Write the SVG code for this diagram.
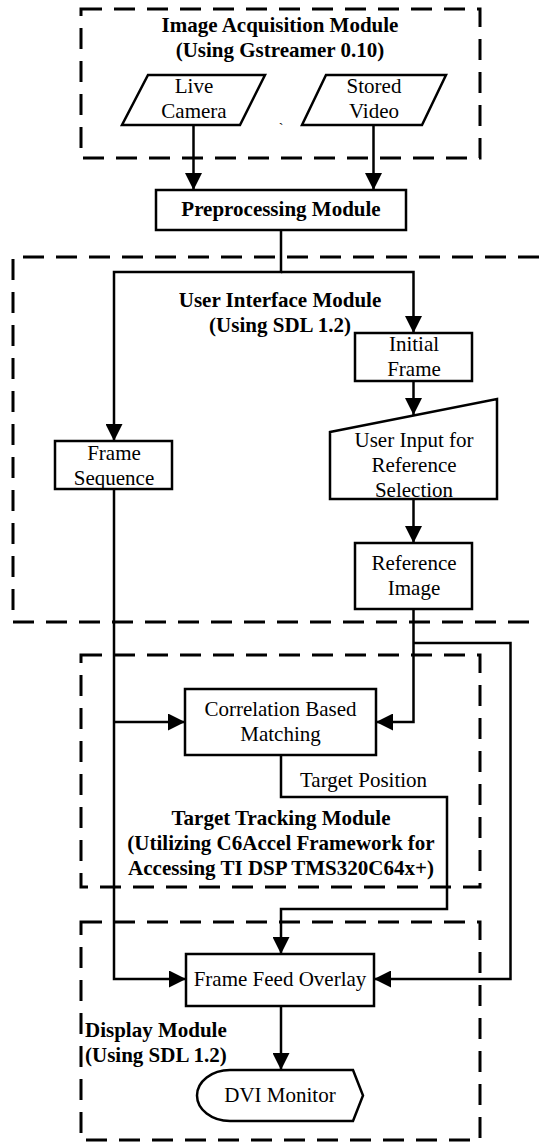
<svg xmlns="http://www.w3.org/2000/svg" width="539" height="1142" viewBox="0 0 539 1142">
<style>
text{font-family:"Liberation Serif","Times New Roman",serif;font-size:21px;fill:#000;text-anchor:middle}
.b{font-weight:bold}
.l{text-anchor:start}
.box{fill:#fff;stroke:#000;stroke-width:2.5}
.mod{fill:none;stroke:#000;stroke-width:3;stroke-dasharray:21 12}
.c{fill:none;stroke:#000;stroke-width:2.5}
</style>
<defs>
<marker id="ah" markerUnits="userSpaceOnUse" markerWidth="17" markerHeight="17" refX="17" refY="8.5" orient="auto">
<path d="M0,0 L17,8.5 L0,17 Z" fill="#000"/>
</marker>
</defs>
<rect width="539" height="1142" fill="#fff"/>

<g id="module-acquisition">
<rect class="mod" x="81" y="9" width="399" height="149"/>
<text class="b" x="280" y="32">Image Acquisition Module</text>
<text class="b" x="280" y="57">(Using Gstreamer 0.10)</text>
<text x="281" y="133" style="font-size:14px">`</text>
</g>
<g id="module-ui">
<path class="mod" d="M539,257 H13 V622 H539"/>
<text class="b" x="280" y="307">User Interface Module</text>
<text class="b" x="280" y="332">(Using SDL 1.2)</text>
</g>
<g id="module-tracking">
<rect class="mod" x="81" y="655" width="399" height="232"/>
<text class="b" x="281" y="825">Target Tracking Module</text>
<text class="b" x="281" y="850">(Utilizing C6Accel Framework for</text>
<text class="b" x="281" y="875">Accessing TI DSP TMS320C64x+)</text>
</g>
<g id="module-display">
<rect class="mod" x="81" y="922" width="399" height="218"/>
<text class="b l" x="85" y="1037">Display Module</text>
<text class="b l" x="85" y="1062">(Using SDL 1.2)</text>
</g>

<g id="connectors">
<path class="c" d="M193.5,125 V190" marker-end="url(#ah)"/>
<path class="c" d="M373.5,125 V190" marker-end="url(#ah)"/>
<path class="c" d="M281,230 V272 H114 V441" marker-end="url(#ah)"/>
<path class="c" d="M281,272 H413.5 V333" marker-end="url(#ah)"/>
<path class="c" d="M413.5,381 V415" marker-end="url(#ah)"/>
<path class="c" d="M413.5,499 V543" marker-end="url(#ah)"/>
<path class="c" d="M413.5,609 V722 H376" marker-end="url(#ah)"/>
<path class="c" d="M413.5,643 H510.5 V979 H374" marker-end="url(#ah)"/>
<path class="c" d="M114,489 V979 H186" marker-end="url(#ah)"/>
<path class="c" d="M114,722 H185" marker-end="url(#ah)"/>
<path class="c" d="M281,755 V797 H447 V909 H281 V954" marker-end="url(#ah)"/>
<path class="c" d="M281,1006 V1070" marker-end="url(#ah)"/>
<text class="l" x="300" y="787">Target Position</text>
</g>

<g id="live-camera">
<polygon class="box" points="148,75 265,75 240,125 122,125"/>
<text x="194" y="93">Live</text>
<text x="194" y="118">Camera</text>
</g>
<g id="stored-video">
<polygon class="box" points="326,75 446,75 422,125 302,125"/>
<text x="374" y="93">Stored</text>
<text x="374" y="118">Video</text>
</g>
<g id="preprocessing">
<rect class="box" x="156" y="190" width="250" height="40"/>
<text class="b" x="281" y="216">Preprocessing Module</text>
</g>
<g id="initial-frame">
<rect class="box" x="355" y="333" width="117" height="48"/>
<text x="414" y="351">Initial</text>
<text x="414" y="376">Frame</text>
</g>
<g id="user-input">
<polygon class="box" points="330,432 497,399 497,499 330,499"/>
<text x="414" y="447">User Input for</text>
<text x="414" y="472">Reference</text>
<text x="414" y="497">Selection</text>
</g>
<g id="reference-image">
<rect class="box" x="355" y="543" width="117" height="66"/>
<text x="414" y="570">Reference</text>
<text x="414" y="595">Image</text>
</g>
<g id="frame-sequence">
<rect class="box" x="55" y="441" width="117" height="48"/>
<text x="114" y="460">Frame</text>
<text x="114" y="485">Sequence</text>
</g>
<g id="correlation">
<rect class="box" x="185" y="689" width="191" height="66"/>
<text x="280.5" y="716">Correlation Based</text>
<text x="280.5" y="741">Matching</text>
</g>
<g id="frame-feed-overlay">
<rect class="box" x="186" y="954" width="188" height="52"/>
<text x="280" y="986">Frame Feed Overlay</text>
</g>
<g id="dvi-monitor">
<path class="box" d="M230,1070 H353 L363,1095.5 L353,1121 H230 A33,25.5 0 0 1 230,1070 Z"/>
<text x="280" y="1102">DVI Monitor</text>
</g>
</svg>
